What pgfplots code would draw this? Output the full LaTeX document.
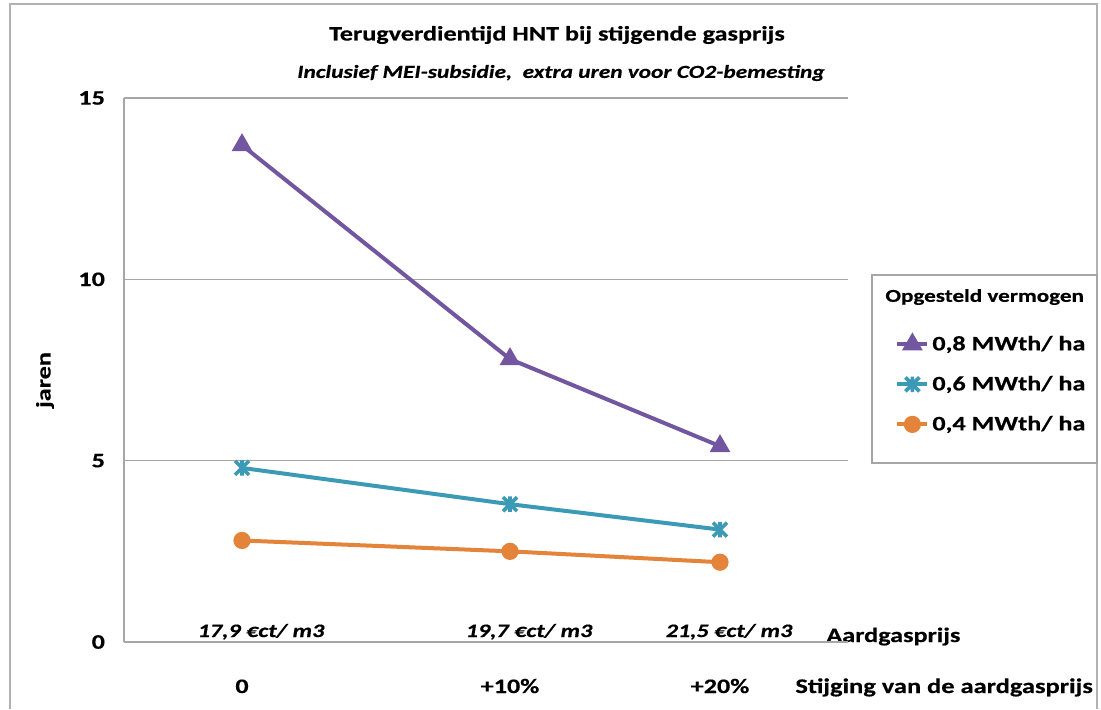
\documentclass[border=0pt]{standalone}
\usepackage{pgfplots}
\pgfplotsset{compat=1.18}
\usepackage{fontspec}
\setmainfont{Carlito}[FakeStretch=1.27, BoldFeatures={FakeBold=0.45}, BoldItalicFeatures={FakeBold=0.45}]
\definecolor{cpurple}{HTML}{7256A0}
\definecolor{cteal}{HTML}{3B9BB6}
\definecolor{corange}{HTML}{E4833A}
\pgfdeclareplotmark{xstar}{%
  \pgfpathmoveto{\pgfqpoint{-\pgfplotmarksize}{-\pgfplotmarksize}}%
  \pgfpathlineto{\pgfqpoint{\pgfplotmarksize}{\pgfplotmarksize}}%
  \pgfpathmoveto{\pgfqpoint{-\pgfplotmarksize}{\pgfplotmarksize}}%
  \pgfpathlineto{\pgfqpoint{\pgfplotmarksize}{-\pgfplotmarksize}}%
  \pgfpathmoveto{\pgfqpoint{0pt}{-1.1\pgfplotmarksize}}%
  \pgfpathlineto{\pgfqpoint{0pt}{1.1\pgfplotmarksize}}%
  \pgfusepathqstroke}
\begin{document}
\begin{tikzpicture}[font=\fontsize{10.3}{12}\selectfont\bfseries]
\path[use as bounding box] (0,0) rectangle (550.5pt,354.5pt);
\draw[gray!60, line width=0.7pt] (5pt,0) -- (5pt,352.5pt) -- (548.5pt,352.5pt) -- (548.5pt,0);
\node at (278.5pt,337pt) {Terugverdientijd HNT bij stijgende gasprijs};
\node at (280.5pt,318pt) {\fontsize{9.2}{11}\selectfont\itshape Inclusief MEI-subsidie,\ \ extra uren voor CO2-bemesting};
\node[rotate=90] at (22.5pt,164.5pt) {jaren};
\node[anchor=base west, inner xsep=0pt] at (413pt,33.5pt) {Aardgasprijs};
\node[anchor=base west, inner xsep=0pt, font=\fontsize{10.4}{12}\selectfont\bfseries] at (397.5pt,8pt) {Stijging van de aardgasprijs};
\draw[gray!70, line width=0.6pt, fill=white] (436pt,217pt) rectangle (548.5pt,123pt);
\node[anchor=west, inner xsep=0pt, font=\fontsize{9.1}{11}\selectfont\bfseries] at (442.5pt,206pt) {Opgesteld vermogen};
\begin{axis}[
  at={(62pt,33.5pt)}, anchor=south west,
  scale only axis, width=362pt, height=272pt,
  xmin=124, xmax=848, ymin=0, ymax=15,
  axis x line*=bottom, axis y line*=left,
  axis line style={-, gray!70, line width=0.6pt},
  ytick={0,5,10,15}, ymajorgrids,
  grid style={gray!70, line width=0.6pt},
  major tick length=0pt,
  xtick={242,510,720}, xticklabels={0,{+10\%},{+20\%}},
  xticklabel style={anchor=base, yshift=-25.5pt},
  yticklabel style={anchor=east, xshift=-6pt},
  /pgf/number format/assume math mode=true,
  ticklabel style={font=\fontsize{10.3}{12}\selectfont\bfseries},
  clip=false,
  legend image code/.code={\draw[mark repeat=2,mark phase=2,#1] plot coordinates {(0pt,0pt)(7.5pt,0pt)(15pt,0pt)};},
  legend style={at={(rel axis cs:1.0649,0.5846)}, anchor=north west, draw=none, fill=none,
    inner sep=0pt, row sep=0pt, column sep=0pt,
    nodes={inner xsep=1.5pt, inner ysep=0pt, text height=13pt, text depth=7pt, anchor=west},
    font=\fontsize{10.3}{12}\selectfont\bfseries},
  legend cell align=left,
]
\addplot[cpurple, line width=2pt, mark=triangle*, mark size=5pt, mark options={solid, line width=1pt}] coordinates {(242,13.7)(510,7.8)(720,5.4)};
\addlegendentry{0,8 MWth/ ha}
\addplot[cteal, line width=2pt, mark=xstar, mark size=3.5pt, mark options={line width=1.8pt}] coordinates {(242,4.8)(510,3.8)(720,3.1)};
\addlegendentry{0,6 MWth/ ha}
\addplot[corange, line width=2pt, mark=*, mark size=3.8pt, mark options={line width=1pt}] coordinates {(242,2.8)(510,2.5)(720,2.2)};
\addlegendentry{0,4 MWth/ ha}
\node[anchor=base, font=\fontsize{9.5}{11}\selectfont\bfseries\itshape] at (axis cs:261,0) [yshift=2.5pt] {17,9 €ct/ m3};
\node[anchor=base, font=\fontsize{9.5}{11}\selectfont\bfseries\itshape] at (axis cs:529,0) [yshift=2.5pt] {19,7 €ct/ m3};
\node[anchor=base, font=\fontsize{9.5}{11}\selectfont\bfseries\itshape] at (axis cs:729,0) [yshift=2.5pt] {21,5 €ct/ m3};
\end{axis}
\end{tikzpicture}
\end{document}
